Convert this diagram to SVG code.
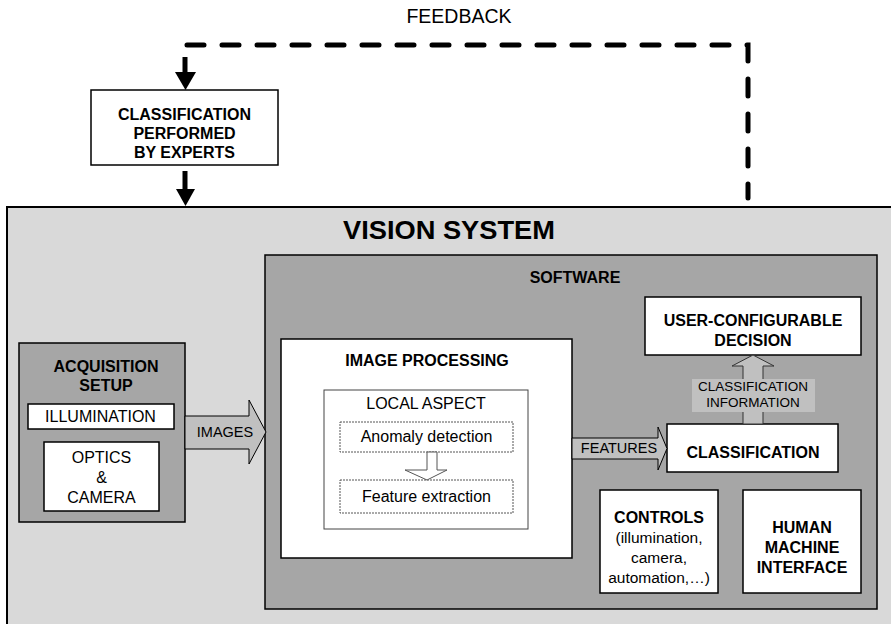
<svg xmlns="http://www.w3.org/2000/svg" width="891" height="624" viewBox="0 0 891 624">
<style>
.b{font-family:"Liberation Sans",Arial,sans-serif;font-weight:bold;fill:#000;text-anchor:middle}
.r{font-family:"Liberation Sans",Arial,sans-serif;fill:#000;text-anchor:middle}
.box{stroke:#000;stroke-width:1.5}
.w{fill:#fff}
.g{fill:#a6a6a6}
.arr{fill:#c0c0c0;stroke:#000;stroke-width:1}
.dot{fill:#fff;stroke:#555;stroke-width:1;stroke-dasharray:2 1}
</style>
<rect width="891" height="624" fill="#fff"/>
<text class="r" x="459" y="23" font-size="19.5">FEEDBACK</text>
<g id="vision-system">
<rect x="7" y="207" width="900" height="430" fill="#d9d9d9" stroke="#000" stroke-width="2"/>
<text class="b" x="449" y="239" font-size="25" textLength="212" lengthAdjust="spacingAndGlyphs">VISION SYSTEM</text>
</g>
<g id="experts">
<rect class="box w" x="91" y="90" width="187" height="75"/>
<text class="b" x="184.5" y="120" font-size="16">CLASSIFICATION</text>
<text class="b" x="184.5" y="139" font-size="16">PERFORMED</text>
<text class="b" x="184.5" y="158" font-size="16">BY EXPERTS</text>
</g>
<g id="acquisition">
<rect class="box g" x="19" y="343" width="166" height="179"/>
<text class="b" x="106" y="372" font-size="16">ACQUISITION</text>
<text class="b" x="106" y="391" font-size="16">SETUP</text>
<rect class="box w" x="28" y="404" width="146" height="25" stroke-width="1"/>
<text class="r" x="100.5" y="422" font-size="16">ILLUMINATION</text>
<rect class="box w" x="44" y="442" width="115" height="69" stroke-width="1"/>
<text class="r" x="101.5" y="463" font-size="16">OPTICS</text>
<text class="r" x="101.5" y="483" font-size="16">&amp;</text>
<text class="r" x="101.5" y="503" font-size="16">CAMERA</text>
</g>
<g id="software">
<rect class="box g" x="265" y="255" width="612" height="354"/>
<text class="b" x="575" y="283" font-size="16">SOFTWARE</text>
</g>
<g id="image-processing">
<rect class="box w" x="281" y="339" width="291" height="219"/>
<text class="b" x="427" y="366" font-size="16">IMAGE PROCESSING</text>
<rect x="324" y="390" width="204" height="139" fill="#fff" stroke="#444" stroke-width="1"/>
<text class="r" x="426" y="409" font-size="16">LOCAL ASPECT</text>
</g>
<g id="anomaly-detection">
<rect class="dot" x="340" y="422" width="173" height="30"/>
<text class="r" x="426.5" y="442" font-size="16">Anomaly detection</text>
</g>
<g id="feature-extraction">
<rect class="dot" x="340" y="480" width="173" height="33"/>
<text class="r" x="426.5" y="502" font-size="16">Feature extraction</text>
</g>
<g id="user-decision">
<rect class="box w" x="645" y="297" width="216" height="58"/>
<text class="b" x="753" y="326" font-size="16">USER-CONFIGURABLE</text>
<text class="b" x="753" y="346" font-size="16">DECISION</text>
</g>
<g id="classification">
<rect class="box w" x="667" y="424" width="171" height="48"/>
<text class="b" x="753" y="458" font-size="16">CLASSIFICATION</text>
</g>
<g id="controls">
<rect class="box w" x="600" y="490" width="118" height="103"/>
<text class="b" x="659" y="523" font-size="16">CONTROLS</text>
<text class="r" x="659" y="543" font-size="15.5">(illumination,</text>
<text class="r" x="659" y="563" font-size="15.5">camera,</text>
<text class="r" x="659" y="583" font-size="15.5">automation,…)</text>
</g>
<g id="hmi">
<rect class="box w" x="743" y="490" width="118" height="103"/>
<text class="b" x="802" y="533" font-size="16">HUMAN</text>
<text class="b" x="802" y="553" font-size="16">MACHINE</text>
<text class="b" x="802" y="573" font-size="16">INTERFACE</text>
</g>
<g id="connectors">
<path d="M187,45 H748 V198" fill="none" stroke="#000" stroke-width="5" stroke-linecap="round" stroke-dasharray="17 18"/>
<path d="M185,57 V73" stroke="#000" stroke-width="5"/>
<polygon points="175,72 196,72 185.5,90" fill="#000"/>
<path d="M185,171 V190" stroke="#000" stroke-width="5"/>
<polygon points="176,189 195,189 185.5,206" fill="#000"/>
<polygon class="arr" points="185,416 249,416 249,400 266,432 249,464 249,449 185,449"/>
<text class="r" x="225" y="437" font-size="14.5">IMAGES</text>
<polygon class="arr" points="572,438 658,438 658,427 667,448.5 658,470 658,459 572,459"/>
<text class="r" x="619" y="453" font-size="14.5">FEATURES</text>
<polygon points="427,452 437,452 437,470 447,470 427,480 405,470 427,470" fill="#fff" stroke="#555" stroke-width="1"/>
<polygon points="743,424 743,366 732,366 753,355 774,366 763,366 763,424" fill="#c0c0c0" stroke="#333" stroke-width="1"/>
<rect x="692" y="379" width="123" height="33" fill="#c0c0c0"/>
<text class="r" x="753" y="391" font-size="13.5" fill="#333">CLASSIFICATION</text>
<text class="r" x="753" y="407" font-size="13.5" fill="#333">INFORMATION</text>
</g>
</svg>
